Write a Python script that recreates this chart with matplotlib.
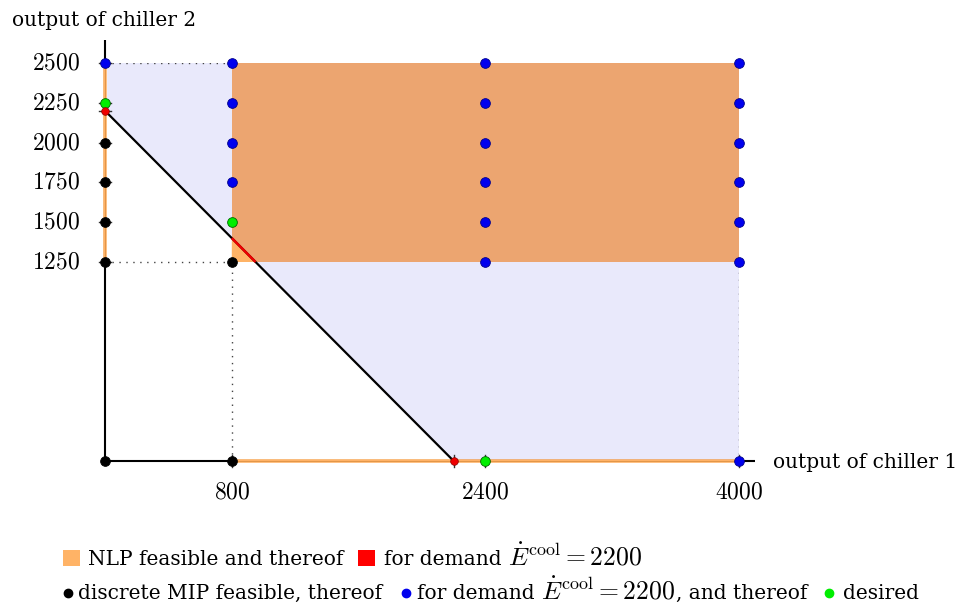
import matplotlib
matplotlib.use("Agg")
import matplotlib.pyplot as plt
from matplotlib.patches import Polygon, Rectangle

plt.rcParams['font.family'] = ['DejaVu Serif']
plt.rcParams['mathtext.fontset'] = 'cm'

# ---------------- data ----------------
demand = 2200
x_tick_values = [800, 2400, 4000]
y_tick_values = [1250, 1500, 1750, 2000, 2250, 2500]
chiller1_min, chiller1_max = 800, 4000
chiller2_min, chiller2_max = 1250, 2500

black_x = [0, 800, 0, 0, 0, 0, 800]
black_y = [0, 0, 1250, 1500, 1750, 2000, 1250]
blue_x = [0, 800, 800, 800, 800,
          2400, 2400, 2400, 2400, 2400, 2400,
          4000, 4000, 4000, 4000, 4000, 4000, 4000]
blue_y = [2500, 2500, 2250, 2000, 1750,
          1250, 1500, 1750, 2000, 2250, 2500,
          1250, 1500, 1750, 2000, 2250, 2500, 0]
green_x = [0, 800, 2400]
green_y = [2250, 1500, 0]
red_x = [0, 2200]
red_y = [2200, 0]

# ---------------- figure ----------------
W, H = 962, 603
fig = plt.figure(figsize=(W / 100, H / 100), dpi=100)
ax = fig.add_axes([105 / W, 1 - 461 / H, 634 / W, 398 / H])
ax.set_xlim(0, 4000)
ax.set_ylim(0, 2500)
ax.axis('off')

ORANGE_LIGHT = '#FFB366'
ORANGE_DARK = '#ECA570'
LAV = '#E9E9FB'
TXT = 14.5
MATH = 17
LEG_MATH = 18.5

# lavender region (x1 + x2 >= demand)
ax.add_patch(Polygon([(0, demand), (0, chiller2_max), (chiller1_max, chiller2_max),
                      (chiller1_max, 0), (demand, 0)],
                     closed=True, facecolor=LAV, edgecolor='none', zorder=1))
# NLP feasible rectangle (over lavender)
ax.add_patch(Rectangle((chiller1_min, chiller2_min), chiller1_max - chiller1_min,
                       chiller2_max - chiller2_min, facecolor=ORANGE_DARK,
                       edgecolor='none', zorder=2))
# part of rectangle below demand line (over white)
ax.add_patch(Polygon([(chiller1_min, chiller2_min),
                      (chiller1_min, demand - chiller1_min),
                      (demand - chiller2_min, chiller2_min)],
                     closed=True, facecolor=ORANGE_LIGHT, edgecolor='none', zorder=2.1))

# dotted guides
dot_kw = dict(color='#444444', lw=1.0, ls=(0, (1, 4)), zorder=3)
ax.plot([0, chiller1_min], [chiller2_max, chiller2_max], **dot_kw)
ax.plot([0, chiller1_min], [chiller2_min, chiller2_min], **dot_kw)
ax.plot([chiller1_min, chiller1_min], [0, chiller2_min], **dot_kw)
ax.plot([chiller1_max, chiller1_max], [0, chiller2_min], **dot_kw)

# axes
ax.plot([0, 4100], [0, 0], color='black', lw=1.5, zorder=4, clip_on=False,
        solid_capstyle='butt')
ax.plot([0, 0], [0, 2645], color='black', lw=1.5, zorder=4, clip_on=False,
        solid_capstyle='butt')
# orange NLP feasible segments on axes
for xs, ys in (([chiller1_min, chiller1_max], [0, 0]),
               ([0, 0], [chiller2_min, chiller2_max])):
    ax.plot(xs, ys, color='white', lw=2.4, zorder=4.5, solid_capstyle='butt', clip_on=False)
    ax.plot(xs, ys, color='#999999', lw=0.5, zorder=4.6, solid_capstyle='butt', clip_on=False)
    ax.plot(xs, ys, color='#FF8000', alpha=0.6, lw=2.6, zorder=5,
            solid_capstyle='butt', clip_on=False)

# tick marks
px = 4000 / 634.0
for v in y_tick_values + [demand]:
    ax.plot([-6 * px, 6 * px], [v, v], color='#333333', lw=1.0, zorder=4.2, clip_on=False)
for v in x_tick_values + [demand]:
    ax.plot([v, v], [-6 * px, 6 * px], color='#333333', lw=1.0, zorder=4.2, clip_on=False)

# demand line
ax.plot([0, demand], [demand, 0], color='black', lw=1.6, zorder=6)
# red segment inside rectangle
ax.plot([chiller1_min, demand - chiller2_min], [demand - chiller1_min, chiller2_min],
        color='#EE0000', lw=1.8, zorder=6.5, solid_capstyle='butt')

# points
mk = dict(ls='none', marker='o', ms=7, mew=0.6, zorder=8, clip_on=False)
ax.plot(black_x, black_y, color='black', mec='black', **mk)
ax.plot(blue_x, blue_y, color='#0000EE', mec='#000088', **mk)
ax.plot(green_x, green_y, color='#00EE00', mec='#006600', **mk)
ax.plot(red_x, red_y, color='#EE0000', mec='#880000', ls='none', marker='o',
        ms=5.5, mew=0.5, zorder=9, clip_on=False)

# tick labels
for v in y_tick_values:
    ax.text(-25 * px, v, f'${v}$', ha='right', va='center', fontsize=MATH, clip_on=False)
for v in x_tick_values:
    ax.text(v, -31 * px, f'${v}$', ha='center', va='center', fontsize=MATH, clip_on=False)

# axis labels
fig.text(12 / W, 1 - 20 / H, 'output of chiller 2', ha='left', va='center', fontsize=TXT)
fig.text(773 / W, 1 - 462 / H, 'output of chiller 1', ha='left', va='center', fontsize=TXT)

# ---------------- legend ----------------
renderer = fig.canvas.get_renderer()


def place_row(base_px, items, x_start):
    x = x_start
    for kind, val, gap in items:
        if kind == 'sq':
            fig.patches.append(Rectangle((x / W, 1 - (base_px + 1) / H), 17 / W, 16 / H,
                                         transform=fig.transFigure, facecolor=val,
                                         edgecolor='none'))
            x += 17 + gap
        elif kind == 'dot':
            fig.add_artist(plt.Line2D([(x + 4) / W], [1 - (base_px - 6) / H], marker='o',
                                      ms=6, color=val, mec=val, ls='none',
                                      transform=fig.transFigure))
            x += 8 + gap
        else:
            fs = LEG_MATH if kind == 'math' else TXT
            t = fig.text(x / W, 1 - base_px / H, val, ha='left', va='baseline', fontsize=fs)
            bb = t.get_window_extent(renderer)
            x += bb.width + gap


math_label = r'$\dot{E}^{\mathrm{cool}} = 2200$'
place_row(565, [('sq', ORANGE_LIGHT, 8), ('txt', 'NLP feasible and thereof', 15),
                ('sq', '#FF0000', 9), ('txt', 'for demand', 6),
                ('math', math_label, 0)], 63)
place_row(599, [('dot', 'black', 6), ('txt', 'discrete MIP feasible, thereof', 20),
                ('dot', '#0000EE', 7), ('txt', 'for demand', 6),
                ('math', math_label, 1), ('txt', ', and thereof', 18),
                ('dot', '#00EE00', 10), ('txt', 'desired', 0)], 64)

fig.savefig('out.png', dpi=100)
